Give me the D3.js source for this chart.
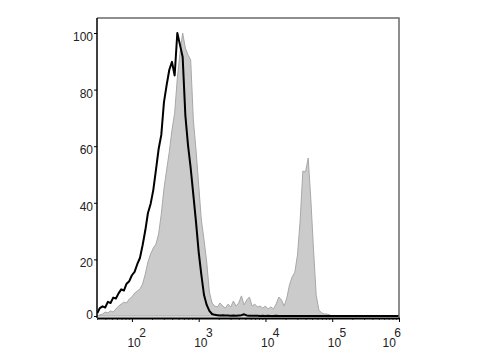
<!DOCTYPE html>
<html>
<head>
<meta charset="utf-8">
<script src="https://cdn.jsdelivr.net/npm/d3@7"></script>
<style>
  body { margin: 0; background: #fff; }
  svg { display: block; }
  .tick text { font-family: "Liberation Sans", Arial, sans-serif; fill: #222; }
</style>
</head>
<body>
<div id="chart"></div>
<script>
// histogram bins (log10 of fluorescence intensity)
var binExp = [
  1.48, 1.52, 1.56, 1.60, 1.64, 1.68, 1.72, 1.76, 1.80, 1.84,
  1.88, 1.92, 1.96, 2.00, 2.04, 2.08, 2.12, 2.16, 2.20, 2.24,
  2.28, 2.32, 2.36, 2.40, 2.44, 2.48, 2.52, 2.56, 2.60, 2.64,
  2.68, 2.72, 2.76, 2.80, 2.84, 2.88, 2.92, 2.96, 3.00, 3.04,
  3.08, 3.12, 3.16, 3.20, 3.24, 3.28, 3.32, 3.36, 3.40, 3.44,
  3.48, 3.52, 3.56, 3.60, 3.64, 3.68, 3.72, 3.76, 3.80, 3.84,
  3.88, 3.92, 3.96, 4.00, 4.04, 4.08, 4.12, 4.16, 4.20, 4.24,
  4.28, 4.32, 4.36, 4.40, 4.44, 4.48, 4.52, 4.56, 4.60, 4.64,
  4.68, 4.72, 4.76, 4.80, 4.84, 4.88, 4.92, 4.96, 5.00, 5.04,
  5.08, 5.12, 5.16, 5.20, 5.24, 5.28, 5.32, 5.36, 5.40, 5.44,
  5.48, 5.52, 5.56, 5.60, 5.64, 5.68, 5.72, 5.76, 5.80, 5.84,
  5.88, 5.92, 5.96, 6.00
];

// stained sample (grey filled), % of max
var sample = [
  0, 0.4, 0.7, 1.4, 1.1, 1.8, 1.4, 2.5, 3.5, 4.2,
  4.9, 4.6, 6.0, 6.7, 8.1, 8.8, 9.5, 11.3, 14.8, 19.1,
  21.9, 24.0, 25.4, 29.0, 36.0, 45.0, 51.6, 58.0, 65.7, 71.7,
  84.0, 93.0, 100, 94.7, 92.2, 90.5, 69.3, 58.7, 46.3, 33.9,
  26.9, 19.1, 8.5, 4.6, 3.5, 3.2, 4.6, 3.5, 2.8, 4.2,
  3.2, 5.3, 3.5, 4.6, 7.1, 3.9, 5.7, 6.7, 3.5, 4.2,
  3.2, 3.5, 2.8, 3.5, 2.5, 3.2, 2.5, 4.2, 6.7, 5.7,
  3.5, 6.4, 11.0, 13.8, 15.5, 21.6, 33.9, 51.2, 50.9, 55.8,
  41.0, 23.3, 7.4, 2.1, 1.1, 0.7, 0.7, 0.4, 0, 0,
  0, 0, 0, 0, 0, 0, 0, 0, 0, 0,
  0, 0, 0, 0, 0, 0, 0, 0, 0, 0,
  0, 0, 0, 0
];

// isotype control (black line), % of max
var isotype = [
  1.0, 2.8, 3.4, 3.0, 5.0, 4.6, 6.5, 6.2, 8.0, 9.4,
  9.0, 11.4, 12.3, 14.4, 15.6, 18.3, 20.5, 25.0, 30.2, 36.4,
  39.6, 44.5, 51.6, 59.0, 64.0, 75.6, 81.6, 87.0, 89.8, 85.0,
  100, 95.8, 91.5, 71.0, 60.4, 52.3, 42.8, 33.2, 22.6, 14.5,
  7.4, 3.9, 1.8, 0.7, 0.4, 0.3, 0.2, 0.3, 0.2, 0.2,
  0.1, 0.2, 0.1, 0.2, 0.3, 0.6, 0.2, 0.1, 0.1, 0.1,
  0.1, 0, 0.1, 0, 0.1, 0, 0, 0.1, 0, 0,
  0, 0, 0, 0, 0, 0, 0, 0, 0, 0,
  0, 0, 0, 0, 0, 0, 0, 0, 0, 0,
  0, 0, 0, 0, 0, 0, 0, 0, 0, 0,
  0, 0, 0, 0, 0, 0, 0, 0, 0, 0,
  0, 0, 0, 0
];

var xTickExps = [2, 3, 4, 5, 6];
var yTicks = [0, 20, 40, 60, 80, 100];

var width = 480;
var height = 360;
var plot = { left: 97, right: 399, top: 18, bottom: 318 };

var svg = d3
  .select("#chart")
  .append("svg")
  .attr("width", width)
  .attr("height", height);

var xScale = d3
  .scaleLog()
  .domain([30, 1e6])
  .range([plot.left, plot.right]);

var yScale = d3
  .scaleLinear()
  .domain([0, 100])
  .range([316, 33]);

var bins = binExp.map(function(e, i) {
  return { v: Math.pow(10, e), s: sample[i], c: isotype[i] };
});

svg
  .append("clipPath")
  .attr("id", "clip")
  .append("rect")
  .attr("x", plot.left)
  .attr("y", plot.top)
  .attr("width", plot.right - plot.left)
  .attr("height", plot.bottom - plot.top);

var g = svg.append("g").attr("clip-path", "url(#clip)");

// grey filled histogram
var area = d3
  .area()
  .x(function(d) { return xScale(d.v); })
  .y0(yScale(0))
  .y1(function(d) { return yScale(d.s); });

g.append("path")
  .datum(bins)
  .attr("d", area)
  .attr("fill", "#cbcbcb")
  .attr("stroke", "#a8a8a8")
  .attr("stroke-width", 1);

// black control line
var line = d3
  .line()
  .x(function(d) { return xScale(d.v); })
  .y(function(d) { return yScale(d.c); });

g.append("path")
  .datum(bins)
  .attr("d", line)
  .attr("fill", "none")
  .attr("stroke", "#000")
  .attr("stroke-width", 2)
  .attr("stroke-linejoin", "round");

// frame top / right (grey)
svg
  .append("path")
  .attr("d", "M" + plot.left + "," + plot.top + "H" + plot.right + "V" + plot.bottom)
  .attr("fill", "none")
  .attr("stroke", "#6a6a6a")
  .attr("stroke-width", 1.5);

// minor x ticks
var minor = [];
for (var e = 1; e < 6; e++) {
  for (var m = 2; m <= 9; m++) {
    var val = m * Math.pow(10, e);
    if (val >= 30) minor.push(val);
  }
}

svg
  .append("g")
  .attr("class", "x-minor")
  .attr("transform", "translate(0," + plot.bottom + ")")
  .call(d3.axisBottom(xScale).tickValues(minor).tickSize(2).tickFormat(""))
  .call(function(s) {
    s.select(".domain").remove();
    s.selectAll("line").attr("stroke", "#555");
  });

// major x axis
var xAxis = d3
  .axisBottom(xScale)
  .tickValues(xTickExps.map(function(p) { return Math.pow(10, p); }))
  .tickSize(4)
  .tickSizeOuter(0)
  .tickFormat("");

var xg = svg
  .append("g")
  .attr("class", "x-axis")
  .attr("transform", "translate(0," + plot.bottom + ")")
  .call(xAxis);

xg.select(".domain").attr("stroke", "#000").attr("stroke-width", 2);

xg.selectAll(".tick")
  .append("text")
  .attr("x", function(d, i) { return i === xTickExps.length - 1 ? -17 : -5; })
  .attr("y", 29)
  .attr("fill", "#222")
  .attr("text-anchor", "start")
  .style("font-size", "12px")
  .each(function(d, i) {
    var t = d3.select(this);
    t.append("tspan").text("10");
    t.append("tspan")
      .attr("dy", -10)
      .attr("dx", -1.5)
      .text(xTickExps[i]);
  });

// y axis
var yAxis = d3
  .axisLeft(yScale)
  .tickValues(yTicks)
  .tickSize(3)
  .tickSizeOuter(0)
  .tickPadding(1);

var yg = svg
  .append("g")
  .attr("class", "y-axis")
  .attr("transform", "translate(" + plot.left + ",0)")
  .call(yAxis);

yg.select(".domain")
  .attr("d", "M0," + plot.top + "V" + plot.bottom)
  .attr("stroke", "#000")
  .attr("stroke-width", 1.5);

yg.selectAll(".tick text")
  .style("font-size", "12px")
  .attr("dy", function(d) { return d === 0 ? "0.2em" : "0.62em"; });
</script>
</body>
</html>
